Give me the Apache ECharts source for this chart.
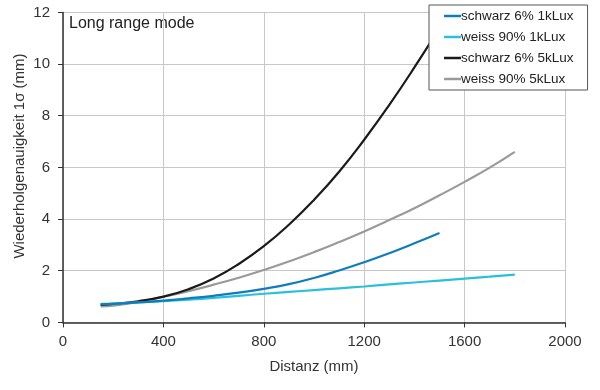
<!DOCTYPE html>
<html>
<head>
<meta charset="utf-8">
<script src="https://cdn.jsdelivr.net/npm/echarts@6/dist/echarts.min.js"></script>
<style>html,body{margin:0;padding:0;background:#fff}#c{width:600px;height:390px}</style>
</head>
<body>
<div id="c"></div>
<script>
const seriesNames = ['schwarz 6% 1kLux', 'weiss 90% 1kLux', 'schwarz 6% 5kLux', 'weiss 90% 5kLux'];
const distLong = [150, 200, 300, 400, 500, 600, 700, 800, 900, 1000, 1100, 1200, 1300, 1400, 1500, 1600, 1700, 1800];
const distShort = [150, 200, 300, 400, 500, 600, 700, 800, 900, 1000, 1100, 1200, 1300, 1400, 1500];
const schwarz1k = [0.70, 0.72, 0.77, 0.84, 0.93, 1.03, 1.15, 1.30, 1.48, 1.72, 2.01, 2.33, 2.68, 3.06, 3.46];
const weiss1k = [0.72, 0.73, 0.77, 0.82, 0.88, 0.95, 1.03, 1.11, 1.18, 1.25, 1.32, 1.39, 1.47, 1.545, 1.62, 1.695, 1.77, 1.85];
const schwarz5k = [0.68, 0.72, 0.82, 1.00, 1.285, 1.70, 2.26, 2.95, 3.78, 4.74, 5.83, 7.07, 8.42, 9.87, 11.40];
const weiss5k = [0.62, 0.65, 0.79, 0.99, 1.21, 1.46, 1.73, 2.03, 2.36, 2.72, 3.11, 3.52, 3.96, 4.42, 4.92, 5.44, 5.99, 6.60];
const xTicks = [0, 400, 800, 1200, 1600, 2000];
const yTicks = [0, 2, 4, 6, 8, 10, 12];

const colors = ['#0f7cc0', '#2ac0dc', '#1b1b1b', '#9a9a9a'];
const font = 'Liberation Sans, Arial, sans-serif';
const zip = (xs, ys) => xs.map((x, i) => [x, ys[i]]);
const dataSets = [zip(distShort, schwarz1k), zip(distLong, weiss1k), zip(distShort, schwarz5k), zip(distLong, weiss5k)];
const order = [3, 2, 1, 0];

const chart = echarts.init(document.getElementById('c'));
chart.setOption({
  animation: false,
  backgroundColor: '#fff',
  textStyle: { fontFamily: font },
  grid: { left: 63, right: 35, top: 12.4, bottom: 67.6 },
  graphic: [{
    type: 'text', left: 69, top: 16,
    style: { text: 'Long range mode', font: '16px ' + font, fill: '#222' }
  }, {
    type: 'text', x: 20, y: 156, rotation: Math.PI / 2,
    style: { text: 'Wiederholgenauigkeit 1σ (mm)', font: '15px ' + font, fill: '#333', align: 'center', verticalAlign: 'middle' }
  }],
  legend: {
    data: seriesNames,
    orient: 'vertical',
    left: 429, top: 5,
    padding: [4, 14, 4, 15],
    itemGap: 7,
    itemWidth: 17,
    itemHeight: 2.5,
    icon: 'rect',
    backgroundColor: '#fff',
    borderColor: '#555',
    borderWidth: 1,
    borderRadius: 0,
    z: 20,
    textStyle: { fontSize: 13.5, lineHeight: 14, color: '#222', fontFamily: font, padding: [0, 0, 0, -5] }
  },
  xAxis: {
    type: 'value', min: xTicks[0], max: xTicks[xTicks.length - 1], interval: 400,
    name: 'Distanz (mm)', nameLocation: 'middle', nameGap: 37,
    nameTextStyle: { fontSize: 15, color: '#333', fontFamily: font },
    axisLine: { lineStyle: { color: '#333', width: 1.5 } },
    axisTick: { show: true, length: 5, lineStyle: { color: '#333' } },
    axisLabel: { fontSize: 15, color: '#333', margin: 12, fontFamily: font, formatter: v => String(v) },
    splitLine: { show: true, lineStyle: { color: '#c8c8c8', width: 1 } }
  },
  yAxis: {
    type: 'value', min: yTicks[0], max: yTicks[yTicks.length - 1], interval: 2,
    axisLine: { show: true, lineStyle: { color: '#333', width: 1.5 } },
    axisTick: { show: true, length: 5, lineStyle: { color: '#333' } },
    axisLabel: { fontSize: 15, color: '#333', margin: 13, fontFamily: font, formatter: v => String(v) },
    splitLine: { show: true, lineStyle: { color: '#c8c8c8', width: 1 } }
  },
  series: order.map(i => ({
    name: seriesNames[i],
    type: 'line',
    data: dataSets[i],
    smooth: true,
    symbol: 'none',
    showSymbol: false,
    color: colors[i],
    lineStyle: { color: colors[i], width: 2.2 },
    z: 2 + (3 - i)
  }))
});
</script>
</body>
</html>
